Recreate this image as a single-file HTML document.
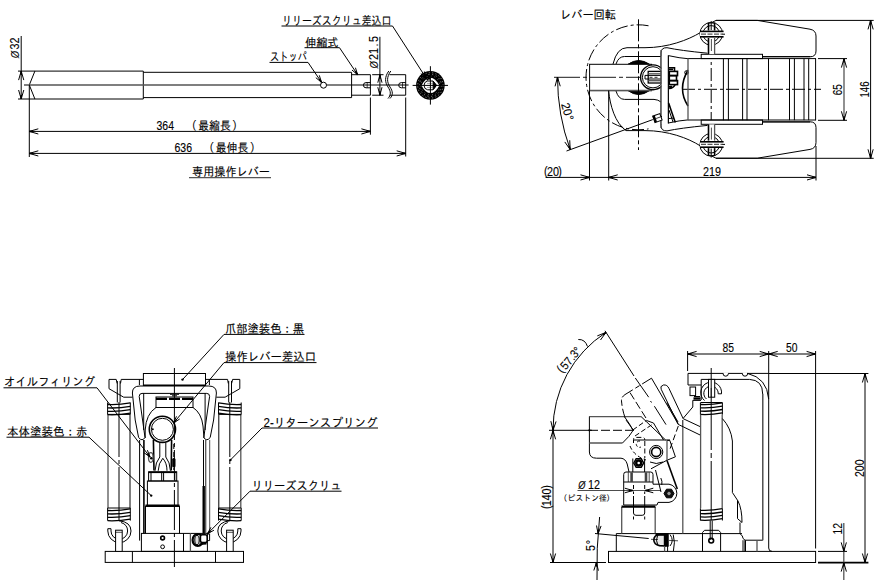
<!DOCTYPE html>
<html lang="ja">
<head>
<meta charset="utf-8">
<title>専用操作レバー 外形図</title>
<style>
html,body{margin:0;padding:0;background:#fff;}
body{width:883px;height:585px;overflow:hidden;font-family:"Liberation Sans","IPAGothic","Noto Sans CJK JP",sans-serif;}
svg{display:block;position:absolute;left:0;top:0;}
.k{stroke:#000;stroke-width:1;fill:none;}
.kf{stroke:#000;stroke-width:1;fill:#fff;}
.k2{stroke:#000;stroke-width:1.6;fill:none;}
.kc{stroke:#000;stroke-width:1.3;fill:none;}
.k3{stroke:#000;stroke-width:2.4;fill:none;}
.g{stroke:#555;stroke-width:1.3;fill:none;}
.t{stroke:#000;stroke-width:.7;fill:none;}
.a{stroke:#000;stroke-width:1;fill:none;}
.c{stroke:#000;stroke-width:.9;fill:none;stroke-dasharray:26 3 4 3;}
.d{stroke:#000;stroke-width:1;fill:none;stroke-dasharray:6 3;}
.b{stroke:#000;stroke-width:1;fill:#000;}
.tx{fill:#000;stroke:#000;stroke-width:.12;font-family:"Liberation Sans","IPAGothic","Noto Sans CJK JP",sans-serif;}
</style>
</head>
<body>
<svg width="883" height="585" viewBox="0 0 883 585">
<rect x="0" y="0" width="883" height="585" fill="#fff"/>
<!-- view 1: lever -->
<g id="lever">
<line class="a" x1="21.2" y1="36" x2="21.2" y2="99"/>
<line class="a" x1="18" y1="71.1" x2="35" y2="71.1"/>
<line class="a" x1="18" y1="99" x2="35" y2="99"/>
<path class="a" d="M23.8 80.1 L21.2 71.1 L18.6 80.1"/>
<line class="k2" x1="21.2" y1="71.1" x2="21.2" y2="75.1"/>
<path class="a" d="M18.6 90 L21.2 99 L23.8 90"/>
<line class="k2" x1="21.2" y1="99" x2="21.2" y2="95"/>
<text class="tx" font-size="12" transform="translate(19.1 58.2) rotate(-90) scale(0.9 1)"><tspan x="0" y="0" font-size="10" font-style="italic" textLength="8" lengthAdjust="spacingAndGlyphs">Ø</tspan><tspan x="9.66 16.33" y="0">32</tspan></text>
<path class="k" d="M34.9 71.1 L143.3 71.1 L143.3 99 L34.9 99"/>
<path class="k" d="M34.9 71.1 L29.3 85 L34.9 99"/>
<line class="g" x1="24" y1="85" x2="408.6" y2="85"/>
<path class="k" d="M143.3 72.3 L351.6 72.3 L351.6 97.6 L143.3 97.6"/>
<path class="k" d="M351.6 74.7 L370.4 74.7 L370.4 95.2 L351.6 95.2"/>
<circle class="kf" cx="323.5" cy="85.2" r="3"/>
<path class="k" d="M370.4 82.6 L366 82.6 A2.6 2.6 0 0 0 366 87.8 L370.4 87.8"/>
<line class="t" x1="367.2" y1="82.6" x2="367.2" y2="87.8"/>
<path class="k" d="M405.7 82.6 L401.3 82.6 A2.6 2.6 0 0 0 401.3 87.8 L405.7 87.8"/>
<line class="t" x1="402.5" y1="82.6" x2="402.5" y2="87.8"/>
<path class="k" d="M389.5 74.7 L405.7 74.7 L405.7 95.2 L389.5 95.2"/>
<path class="k" d="M388.8 71 C384.5 77 384.8 82 388 87 C391 91.5 391.2 95 388 98.5"/>
<path class="k" d="M390.8 71 C386.5 77 386.8 82 390 87 C393 91.5 393.2 95 390 98.5"/>
<line class="a" x1="379.9" y1="36.8" x2="379.9" y2="95.2"/>
<line class="a" x1="372.2" y1="74.7" x2="383.5" y2="74.7"/>
<line class="a" x1="372.2" y1="95.2" x2="383.5" y2="95.2"/>
<path class="a" d="M382 82.7 L379.9 74.7 L377.8 82.7"/>
<line class="k2" x1="379.9" y1="74.7" x2="379.9" y2="78.7"/>
<path class="a" d="M377.8 87.2 L379.9 95.2 L382 87.2"/>
<line class="k2" x1="379.9" y1="95.2" x2="379.9" y2="91.2"/>
<text class="tx" font-size="12" transform="translate(378.1 68.6) rotate(-90) scale(0.9 1)"><tspan x="0" y="0" font-size="10" font-style="italic" textLength="8" lengthAdjust="spacingAndGlyphs">Ø</tspan><tspan x="9.55 16.22 24.55 29.55" y="0">21.5</tspan></text>
<circle cx="430.4" cy="85.4" r="14.3" fill="#000"/>
<circle class="t" cx="430.4" cy="85.4" r="12.7" style="stroke:#fff;stroke-width:.5;stroke-dasharray:1.2 2.2"/>
<circle class="t" cx="430.4" cy="85.4" r="11" style="stroke:#fff;stroke-width:.5;stroke-dasharray:1.2 2.6"/>
<circle class="t" cx="430.4" cy="85.4" r="9.4" style="stroke:#fff;stroke-width:.4;stroke-dasharray:1 3"/>
<path class="k" d="M421.5 85.4 Q425.5 77.7 430.4 77.7 Q435.3 77.7 439.4 85.4 Q435.3 93.1 430.4 93.1 Q425.5 93.1 421.5 85.4 Z" style="fill:#fff;stroke:none"/>
<path class="k" d="M427.6 81 L433 81 L436.4 85.4 L433 89.8 L427.6 89.8 A4.5 4.5 0 0 1 427.6 81 Z"/>
<path class="b" d="M433.2 81.3 L436.5 85.4 L433.2 89.5 Z"/>
<line class="t" x1="427" y1="83.4" x2="433" y2="83.4" style="stroke:#777"/>
<line class="t" x1="427" y1="87.4" x2="433" y2="87.4" style="stroke:#777"/>
<path class="k2" d="M426.8 80.3 Q428.3 77.8 430.2 79"/>
<line class="k" x1="412.6" y1="85.4" x2="448" y2="85.4"/>
<line class="k" x1="430.4" y1="66.2" x2="430.4" y2="104.6"/>
<line class="k" x1="29.3" y1="85" x2="29.3" y2="157"/>
<line class="k" x1="370.4" y1="97.5" x2="370.4" y2="134.7"/>
<line class="k" x1="405.7" y1="97.5" x2="405.7" y2="156.5"/>
<line class="k" x1="29.3" y1="131.4" x2="370.4" y2="131.4"/>
<path class="a" d="M38.3 128.8 L29.3 131.4 L38.3 134"/>
<line class="k2" x1="29.3" y1="131.4" x2="33.3" y2="131.4"/>
<path class="a" d="M361.4 134 L370.4 131.4 L361.4 128.8"/>
<line class="k2" x1="370.4" y1="131.4" x2="366.4" y2="131.4"/>
<line class="k" x1="29.3" y1="153.4" x2="405.7" y2="153.4"/>
<path class="a" d="M38.3 150.8 L29.3 153.4 L38.3 156"/>
<line class="k2" x1="29.3" y1="153.4" x2="33.3" y2="153.4"/>
<path class="a" d="M396.7 156 L405.7 153.4 L396.7 150.8"/>
<line class="k2" x1="405.7" y1="153.4" x2="401.7" y2="153.4"/>
<text class="tx" x="156.5" y="130" font-size="12" textLength="17.5" lengthAdjust="spacingAndGlyphs">364</text>
<text class="tx" font-size="12" transform="translate(198.5 130) scale(0.9 1)" x="-13.96 -0.33 11.78 23.89 37.23" y="0">（最縮長）</text>
<text class="tx" x="174.5" y="152" font-size="12" textLength="17.5" lengthAdjust="spacingAndGlyphs">636</text>
<text class="tx" font-size="12" transform="translate(216 152) scale(0.9 1)" x="-13.96 -0.33 11.78 23.89 37.45" y="0">（最伸長）</text>
<text class="tx" x="192" y="175.8" font-size="12" textLength="78" lengthAdjust="spacingAndGlyphs">専用操作レバー</text>
<line class="g" x1="189" y1="177.7" x2="271" y2="177.7"/>
<text class="tx" x="282" y="24.8" font-size="12" textLength="109.5" lengthAdjust="spacingAndGlyphs">リリーズスクリュ差込口</text>
<path class="a" d="M281.5 26 L392.5 26 L426.4 78.5"/>
<path class="a" d="M420.83 73.76 L426.4 78.5 L424.36 71.48"/>
<line class="k2" x1="426.4" y1="78.5" x2="424.23" y2="75.14"/>
<text class="tx" x="305" y="46.8" font-size="12" textLength="33.5" lengthAdjust="spacingAndGlyphs">伸縮式</text>
<path class="a" d="M304.5 47.7 L339.5 47.7 L357.6 74.7"/>
<path class="a" d="M351.96 70.05 L357.6 74.7 L355.45 67.71"/>
<line class="k2" x1="357.6" y1="74.7" x2="355.37" y2="71.38"/>
<text class="tx" x="270" y="61.4" font-size="12" textLength="37" lengthAdjust="spacingAndGlyphs">ストッパ</text>
<path class="a" d="M269.5 62.4 L308 62.4 L321.5 82.3"/>
<path class="a" d="M315.83 77.69 L321.5 82.3 L319.3 75.33"/>
<line class="k2" x1="321.5" y1="82.3" x2="319.25" y2="78.99"/>
</g>
<!-- view 2: top view -->
<g id="top">
<text class="tx" x="560" y="18.5" font-size="12" textLength="56" lengthAdjust="spacingAndGlyphs">レバー回転</text>
<path class="k" d="M648.52 25.76 A52.5 52.5 0 1 0 648.52 128.84" stroke-dasharray="12 3 3 3"/>
<line class="k" x1="682" y1="89.3" x2="821" y2="89.3" stroke-dasharray="13 3 3 3"/>
<line class="k" x1="711.2" y1="24" x2="711.2" y2="155" stroke-dasharray="13 3 3 3"/>
<path class="k" d="M711.8 22.5 L716 20.4 L757.3 20.4 L810 29.2 Q816 30.3 816 36 L816 51 Q816 56.8 810 56.8 L762.5 56.8"/>
<path class="k" d="M613 64 Q617 47.7 627 47.7 L645 47.7 C668 47.7 688 40 700.5 32.5"/>
<path class="k" d="M616 64 Q618.5 56.5 624.5 56.5 L661 56.5"/>
<path class="k" d="M661 89.3 L661 53 Q661 47.5 667 47.7 Q680 50.5 707.5 53.2"/>
<path class="k" d="M668.3 89.3 L668.3 55.6 Q680 58.2 688 58.7"/>
<rect class="kf" x="701.2" y="54.3" width="61.3" height="4.3"/>
<line class="k" x1="688" y1="58.6" x2="816" y2="58.6"/>
<line class="k" x1="762.5" y1="56.6" x2="810" y2="56.6"/>
<circle class="kf" cx="711.2" cy="33.8" r="11.3"/>
<circle class="k" cx="711.2" cy="33.8" r="8.2"/>
<rect class="kf" x="708.5" y="37.3" width="6.1" height="16.9" style="stroke:none"/>
<line class="k2" x1="708.5" y1="38" x2="708.5" y2="54.2"/>
<line class="g" x1="714.6" y1="38" x2="714.6" y2="54.2"/>
<line class="t" x1="711.4" y1="39" x2="711.4" y2="51"/>
<line class="k2" x1="708.5" y1="22.7" x2="708.5" y2="30.5"/>
<line class="k2" x1="714.6" y1="22.7" x2="714.6" y2="30.5"/>
<line class="k" x1="708.5" y1="22.9" x2="714.6" y2="22.9"/>
<line class="k" x1="711.2" y1="21" x2="711.2" y2="30"/>
<rect class="kf" x="700" y="31.4" width="23.6" height="5.4" style="stroke:none"/>
<line class="k2" x1="700" y1="31.4" x2="723.6" y2="31.4"/>
<line class="k2" x1="700" y1="36.8" x2="723.6" y2="36.8"/>
<line class="g" x1="701" y1="34.2" x2="723" y2="34.2" stroke-dasharray="5 1.5"/>
<line class="k" x1="722.5" y1="34.2" x2="725" y2="34.2"/>
<path class="b" d="M628 64.3 Q638.5 56.8 649.5 64.3 Z"/>
<path class="k" d="M711.8 156.1 L716 158.2 L757.3 158.2 L810 149.4 Q816 148.3 816 142.6 L816 127.6 Q816 121.8 810 121.8 L762.5 121.8"/>
<path class="k" d="M608.6 91 C610 105 615 123 626 130.6 L645 130.6 C668 130.6 688 138 700.5 146"/>
<path class="k" d="M616 91 Q618.5 99.4 624.5 99.4 L654 99.4 Q658 99.6 661 102"/>
<path class="k" d="M661 89.3 L661 125.6 Q661 131.1 667 130.9 Q680 128.1 707.5 125.4"/>
<path class="k" d="M668.3 89.3 L668.3 123 Q680 120.4 688 119.9"/>
<rect class="kf" x="701.2" y="120" width="61.3" height="4.3"/>
<line class="k" x1="688" y1="120" x2="816" y2="120"/>
<line class="k" x1="762.5" y1="122" x2="810" y2="122"/>
<circle class="kf" cx="711.2" cy="144.8" r="11.3"/>
<circle class="k" cx="711.2" cy="144.8" r="8.2"/>
<rect class="kf" x="708.5" y="124.4" width="6.1" height="16.9" style="stroke:none"/>
<line class="k2" x1="708.5" y1="140.6" x2="708.5" y2="124.4"/>
<line class="g" x1="714.6" y1="140.6" x2="714.6" y2="124.4"/>
<line class="t" x1="711.4" y1="139.6" x2="711.4" y2="127.6"/>
<line class="k2" x1="708.5" y1="155.9" x2="708.5" y2="148.1"/>
<line class="k2" x1="714.6" y1="155.9" x2="714.6" y2="148.1"/>
<line class="k" x1="708.5" y1="155.7" x2="714.6" y2="155.7"/>
<line class="k" x1="711.2" y1="157.6" x2="711.2" y2="148.6"/>
<rect class="kf" x="700" y="141.8" width="23.6" height="5.4" style="stroke:none"/>
<line class="k2" x1="700" y1="147.2" x2="723.6" y2="147.2"/>
<line class="k2" x1="700" y1="141.8" x2="723.6" y2="141.8"/>
<line class="g" x1="701" y1="144.4" x2="723" y2="144.4" stroke-dasharray="5 1.5"/>
<line class="k" x1="722.5" y1="144.4" x2="725" y2="144.4"/>
<path class="b" d="M628 90.6 Q638.5 98.4 649.5 90.6 Z"/>
<rect class="kf" x="589.6" y="64.3" width="62" height="26.3"/>
<line class="g" x1="589.6" y1="90.5" x2="652" y2="90.5"/>
<line class="c" x1="554" y1="77.3" x2="640" y2="77.3"/>
<line class="k" x1="638.5" y1="19.3" x2="638.5" y2="150" stroke-dasharray="22 3 4 3"/>
<circle class="kf" cx="653" cy="77.3" r="12.4" style="stroke-width:1.4"/>
<circle class="k" cx="653" cy="77.3" r="10.6"/>
<rect class="kf" x="648.2" y="71.4" width="13" height="11.6" style="stroke-width:1.3"/>
<line class="g" x1="648.2" y1="73.8" x2="661" y2="73.8"/>
<line class="g" x1="648.2" y1="80.7" x2="661" y2="80.7"/>
<line class="k" x1="645" y1="75.4" x2="661" y2="75.4"/>
<line class="k" x1="645" y1="79" x2="661" y2="79"/>
<line class="k" x1="645" y1="75.4" x2="645" y2="79"/>
<line class="g" x1="649.5" y1="77.3" x2="659" y2="77.3" stroke-dasharray="3 2"/>
<rect class="kf" x="661.5" y="56" width="6.3" height="68" style="stroke:none"/>
<line class="g" x1="661" y1="50" x2="661" y2="128"/>
<line class="k" x1="668.3" y1="55.6" x2="668.3" y2="123.6"/>
<rect class="k2" x="669.3" y="71.4" width="8.2" height="4.2"/>
<rect class="k2" x="669.3" y="75.6" width="7.2" height="5"/>
<rect class="k2" x="669.3" y="80.6" width="8.2" height="4"/>
<path class="k2" d="M669 67.8 L674.5 67.8 L674.5 71 M669 69.5 L673 69.5 M669 88.5 Q673.5 88 675 84.8 M669 86.8 L672 86.5"/>
<path class="k2" d="M688 70 Q677 89 688 106"/>
<circle class="k" cx="686.5" cy="72.5" r="1.8"/>
<line class="k" x1="723.4" y1="58.6" x2="723.4" y2="120.2"/>
<line class="k" x1="728.4" y1="58.6" x2="728.4" y2="120.2"/>
<line class="k" x1="742.6" y1="58.6" x2="742.6" y2="120.2"/>
<line class="k" x1="747" y1="58.6" x2="747" y2="120.2"/>
<line class="k" x1="768.5" y1="58.6" x2="768.5" y2="120.2"/>
<line class="k" x1="789.5" y1="58.6" x2="789.5" y2="120.2"/>
<line class="k" x1="794.4" y1="58.6" x2="794.4" y2="120.2"/>
<line class="k" x1="804" y1="58.6" x2="804" y2="120.2"/>
<line class="k" x1="808.7" y1="58.6" x2="808.7" y2="120.2"/>
<line class="k" x1="815.6" y1="58.6" x2="815.6" y2="120.2"/>
<line class="g" x1="688" y1="58.6" x2="688" y2="120.2"/>
<line class="k" x1="566.5" y1="151" x2="650" y2="120.6"/>
<line class="k" x1="650" y1="120.6" x2="662" y2="116.3" stroke-dasharray="3 2"/>
<g transform="rotate(-20 657.5 118)"><rect class="kf" x="653.6" y="114.6" width="7.6" height="6.8"/><line class="k3" x1="654.6" y1="114.6" x2="654.6" y2="121.4"/><line class="t" x1="656" y1="118" x2="661" y2="118"/></g>
<path class="k2" d="M668.6 103 L675.3 122.6"/>
<path class="k" d="M669 110 L673 122 M669 118.5 L674 118"/>
<line class="k" x1="589.5" y1="90.5" x2="589.5" y2="180.5"/>
<line class="k" x1="608.7" y1="90.5" x2="608.7" y2="180.5"/>
<line class="k" x1="816" y1="146" x2="816" y2="180.5"/>
<line class="k" x1="545.6" y1="177.4" x2="816" y2="177.4"/>
<path class="a" d="M580.5 180 L589.5 177.4 L580.5 174.8"/>
<line class="k2" x1="589.5" y1="177.4" x2="585.5" y2="177.4"/>
<path class="a" d="M617.7 174.8 L608.7 177.4 L617.7 180"/>
<line class="k2" x1="608.7" y1="177.4" x2="612.7" y2="177.4"/>
<path class="a" d="M807 180 L816 177.4 L807 174.8"/>
<line class="k2" x1="816" y1="177.4" x2="812" y2="177.4"/>
<text class="tx" x="703" y="175.6" font-size="12" textLength="18" lengthAdjust="spacingAndGlyphs">219</text>
<text class="tx" font-size="12" transform="translate(544 175.6) scale(0.9 1)" x="0 3.22 9.89 15.89" y="0" dy="-1 1 0 -1">(20)</text>
<path class="a" d="M557.5 77.3 A211.3 211.3 0 0 0 570.2 149.6"/>
<path class="a" d="M560.26 86.25 L557.5 77.3 L555.06 86.34"/>
<line class="k2" x1="557.5" y1="77.3" x2="557.57" y2="81.3"/>
<path class="a" d="M564.81 141.94 L570.2 149.6 L569.73 140.24"/>
<line class="k2" x1="570.2" y1="149.6" x2="568.9" y2="145.82"/>
<text class="tx" font-size="12" transform="translate(561 104.3) rotate(74) scale(0.95 1)" x="-0.07 6.45 13.92" y="0">20°</text>
<line class="k" x1="818" y1="58.6" x2="847" y2="58.6"/>
<line class="k" x1="818" y1="120.3" x2="847" y2="120.3"/>
<line class="g" x1="844" y1="58.6" x2="844" y2="120.3"/>
<path class="a" d="M846.6 67.6 L844 58.6 L841.4 67.6"/>
<line class="k2" x1="844" y1="58.6" x2="844" y2="62.6"/>
<path class="a" d="M841.4 111.3 L844 120.3 L846.6 111.3"/>
<line class="k2" x1="844" y1="120.3" x2="844" y2="116.3"/>
<text class="tx" x="842" y="95.2" font-size="12" textLength="11" lengthAdjust="spacingAndGlyphs" transform="rotate(-90 842 95.2)">65</text>
<line class="k" x1="716" y1="20.4" x2="873.7" y2="20.4"/>
<line class="k" x1="716" y1="158.3" x2="873.7" y2="158.3"/>
<line class="k" x1="870.6" y1="20.4" x2="870.6" y2="158.3"/>
<path class="a" d="M873.2 29.4 L870.6 20.4 L868 29.4"/>
<line class="k2" x1="870.6" y1="20.4" x2="870.6" y2="24.4"/>
<path class="a" d="M868 149.3 L870.6 158.3 L873.2 149.3"/>
<line class="k2" x1="870.6" y1="158.3" x2="870.6" y2="154.3"/>
<text class="tx" x="869" y="97.5" font-size="12" textLength="16" lengthAdjust="spacingAndGlyphs" transform="rotate(-90 869 97.5)">146</text>
</g>
<!-- view 3: front view -->
<g id="front">
<line class="k" x1="174.4" y1="368" x2="174.4" y2="567" stroke-dasharray="72 3 4 3 30 3 4 3 40 3 4 3 200"/>
<rect class="k" x="105.2" y="551.4" width="138.3" height="11"/>
<line class="k" x1="132.4" y1="551.4" x2="132.4" y2="562.4"/>
<line class="k" x1="215.5" y1="551.4" x2="215.5" y2="562.4"/>
<rect class="k" x="141.4" y="533.4" width="66" height="18"/>
<line class="k" x1="183.5" y1="533.4" x2="183.5" y2="551.4"/>
<line class="g" x1="190.4" y1="533.4" x2="190.4" y2="551.4"/>
<circle class="k2" cx="162.6" cy="538" r="1.9"/>
<circle class="k" cx="162.6" cy="546.8" r="1.9"/>
<rect class="k" x="147.4" y="481" width="30.6" height="24.6"/>
<line class="k3" x1="145.5" y1="505.8" x2="179.5" y2="505.8"/>
<line class="k" x1="145.5" y1="505.8" x2="145.5" y2="533.4"/>
<line class="k" x1="179.5" y1="505.8" x2="179.5" y2="533.4"/>
<rect class="k" x="148.6" y="471.8" width="28.1" height="9.2"/>
<line class="k" x1="151" y1="471.8" x2="151" y2="481"/>
<line class="k" x1="161.7" y1="471.8" x2="161.7" y2="481"/>
<line class="k" x1="163.6" y1="471.8" x2="163.6" y2="481"/>
<line class="k" x1="174.8" y1="471.8" x2="174.8" y2="481"/>
<line class="k2" x1="148.6" y1="472.3" x2="176.7" y2="472.3"/>
<rect class="k" x="143.4" y="373.5" width="62.1" height="12"/>
<line class="k2" x1="143.4" y1="385.2" x2="205.5" y2="385.2"/>
<path class="k" d="M143.4 379.4 L121.2 379.4 L120.5 383.5"/>
<path class="k" d="M117.2 383.5 L116.2 379.4 L109 379.4 L109 388.7 L123.7 397.2 L132.5 397.2"/>
<line class="k" x1="139.4" y1="379.4" x2="139.4" y2="385"/>
<line class="k" x1="117.3" y1="381" x2="117.3" y2="402.5"/>
<line class="k" x1="120.1" y1="381" x2="120.1" y2="402.5"/>
<path class="k" d="M174.4 386 L140 386 Q132.3 386 132.4 393 L135.2 420 L138.6 437.5 Q142.2 442 145 437.5 L140.6 406 L139.2 396.5 Q139.2 393.4 142 393.4 L174.4 393.4"/>
<line class="k" x1="143.7" y1="393.4" x2="143.7" y2="430"/>
<line class="k" x1="139.6" y1="440" x2="139.6" y2="540.6"/>
<line class="k2" x1="143.9" y1="440" x2="143.9" y2="533.4"/>
<line class="g" x1="108" y1="414.4" x2="108" y2="508"/>
<line class="k" x1="130" y1="414.4" x2="130" y2="508"/>
<line class="k" x1="119" y1="402" x2="119" y2="521" stroke-dasharray="55 3 4 3 200"/>
<path class="kc" d="M107.6 404.5 Q119 405 130.3 402.9"/>
<path class="kc" d="M107.6 407.9 Q119 408.4 130.3 406.3"/>
<path class="kc" d="M107.6 411.3 Q119 411.8 130.3 409.7"/>
<path class="kc" d="M107.6 414.7 Q119 415.2 130.3 413.1"/>
<line class="k" x1="107.6" y1="402.5" x2="107.6" y2="414.4"/>
<line class="k" x1="130.3" y1="402.5" x2="130.3" y2="414.4"/>
<line class="k" x1="107.6" y1="414.4" x2="130.3" y2="414.4"/>
<path class="kc" d="M107.6 510.5 Q119 511 130.3 508.9"/>
<path class="kc" d="M107.6 513.9 Q119 514.4 130.3 512.3"/>
<path class="kc" d="M107.6 517.3 Q119 517.8 130.3 515.7"/>
<path class="kc" d="M107.6 520.7 Q119 521.2 130.3 519.1"/>
<line class="k" x1="107.6" y1="508" x2="107.6" y2="520.6"/>
<line class="k" x1="130.3" y1="508" x2="130.3" y2="520.6"/>
<line class="k" x1="107.6" y1="508" x2="130.3" y2="508"/>
<path class="k" d="M119 520.8 Q131 522 131 531 A11.3 11.3 0 0 1 107.8 531 L107.8 528.7 L111 528.7 L111 531 A8.3 8.3 0 0 0 127.6 531 Q127.6 524.5 121 522.5"/>
<rect class="kf" x="115.6" y="530.2" width="6.6" height="21.2"/>
<line class="t" x1="115.6" y1="532.3" x2="122.2" y2="532.3"/>
<path class="k" d="M205.4 379.4 L227.6 379.4 L228.3 383.5"/>
<path class="k" d="M231.6 383.5 L232.6 379.4 L239.8 379.4 L239.8 388.7 L225.1 397.2 L216.3 397.2"/>
<line class="k" x1="209.4" y1="379.4" x2="209.4" y2="385"/>
<line class="k" x1="231.5" y1="381" x2="231.5" y2="402.5"/>
<line class="k" x1="228.7" y1="381" x2="228.7" y2="402.5"/>
<path class="k" d="M174.4 386 L208.8 386 Q216.5 386 216.4 393 L213.6 420 L210.2 437.5 Q206.6 442 203.8 437.5 L208.2 406 L209.6 396.5 Q209.6 393.4 206.8 393.4 L174.4 393.4"/>
<line class="k" x1="205.1" y1="393.4" x2="205.1" y2="430"/>
<line class="k" x1="203.5" y1="440" x2="203.5" y2="486"/>
<line class="k3" x1="203.7" y1="486" x2="203.7" y2="533.4"/>
<line class="g" x1="205.7" y1="440" x2="205.7" y2="533.4"/>
<line class="t" x1="209.7" y1="440" x2="209.7" y2="533.4"/>
<line class="g" x1="240.8" y1="414.4" x2="240.8" y2="508"/>
<line class="k" x1="218.8" y1="414.4" x2="218.8" y2="508"/>
<line class="k" x1="229.8" y1="402" x2="229.8" y2="521" stroke-dasharray="55 3 4 3 200"/>
<path class="kc" d="M241.2 404.5 Q229.8 405 218.5 402.9"/>
<path class="kc" d="M241.2 407.9 Q229.8 408.4 218.5 406.3"/>
<path class="kc" d="M241.2 411.3 Q229.8 411.8 218.5 409.7"/>
<path class="kc" d="M241.2 414.7 Q229.8 415.2 218.5 413.1"/>
<line class="k" x1="241.2" y1="402.5" x2="241.2" y2="414.4"/>
<line class="k" x1="218.5" y1="402.5" x2="218.5" y2="414.4"/>
<line class="k" x1="241.2" y1="414.4" x2="218.5" y2="414.4"/>
<path class="kc" d="M241.2 510.5 Q229.8 511 218.5 508.9"/>
<path class="kc" d="M241.2 513.9 Q229.8 514.4 218.5 512.3"/>
<path class="kc" d="M241.2 517.3 Q229.8 517.8 218.5 515.7"/>
<path class="kc" d="M241.2 520.7 Q229.8 521.2 218.5 519.1"/>
<line class="k" x1="241.2" y1="508" x2="241.2" y2="520.6"/>
<line class="k" x1="218.5" y1="508" x2="218.5" y2="520.6"/>
<line class="k" x1="241.2" y1="508" x2="218.5" y2="508"/>
<path class="k" d="M229.8 520.8 Q217.8 522 217.8 531 A11.3 11.3 0 0 0 241 531 L241 528.7 L237.8 528.7 L237.8 531 A8.3 8.3 0 0 1 221.2 531 Q221.2 524.5 227.8 522.5"/>
<rect class="kf" x="226.6" y="530.2" width="6.6" height="21.2"/>
<line class="t" x1="233.2" y1="532.3" x2="226.6" y2="532.3"/>
<rect class="k" x="156" y="397" width="37" height="10.5"/>
<line class="k3" x1="156" y1="398.9" x2="193" y2="398.9" stroke-dasharray="11 2"/>
<path class="k" d="M170 394.3 L179 394.3 M172 395.8 L177 395.8"/>
<path class="k" d="M156 407.5 Q146 414 145.2 430 L145.2 438"/>
<path class="k" d="M193 407.5 Q201.5 413 203 426 L204 438"/>
<circle class="k2" cx="162.4" cy="429.3" r="13.1"/>
<circle class="k" cx="162.4" cy="429.3" r="11"/>
<circle cx="152.8" cy="429.3" r="1" fill="#000"/>
<path class="k2" d="M153.4 440 L154 470.5 M171.6 440 L171.2 470.5"/>
<path class="k" d="M159.8 442.5 L159.8 457 Q155.5 462 155 470.8 M165.8 442.5 L165.8 457 Q170 462 170.4 470.8"/>
<path class="k" d="M162.8 458.3 Q158.5 463 158.2 470.8 M162.8 458.3 Q167 463 167 470.8"/>
<ellipse class="g" cx="150.8" cy="457.5" rx="2.3" ry="4.8"/>
<circle cx="151.3" cy="458.3" r="1.3" fill="#000"/>
<rect x="172.2" y="458" width="3.3" height="9.5" rx="1.5" fill="#000"/>
<line class="k" x1="173.8" y1="444" x2="173.8" y2="470" stroke-dasharray="5 3"/>
<ellipse cx="197.8" cy="540" rx="5.2" ry="6" fill="#ddd" stroke="#000" stroke-width="2.2"/>
<ellipse cx="197" cy="540" rx="2.2" ry="4.6" fill="none" stroke="#000" stroke-width="1"/>
<rect x="200.4" y="534.8" width="6.8" height="7.8" rx="2" fill="#fff" stroke="#000" stroke-width="1.6"/>
<path class="k2" d="M199.5 544.3 L206.5 543.6"/>
<path class="k" d="M207.6 534 L209.6 534 L209.6 540.6 L207.6 540.6"/>
<text class="tx" x="4" y="385.8" font-size="12" textLength="91" lengthAdjust="spacingAndGlyphs">オイルフィリング</text>
<path class="a" d="M3.5 387.8 L97 387.8 L150 457"/>
<path class="a" d="M144.07 452.72 L150 457 L147.4 450.17"/>
<line class="k2" x1="150" y1="457" x2="147.56" y2="453.83"/>
<text class="tx" x="7" y="435.5" font-size="12" textLength="80.5" lengthAdjust="spacingAndGlyphs">本体塗装色：赤</text>
<path class="a" d="M6.5 437.2 L89 437.2 L151.2 495.6"/>
<circle cx="151.2" cy="495.6" r="1.2" fill="#000"/>
<text class="tx" x="225" y="333" font-size="12" textLength="79" lengthAdjust="spacingAndGlyphs">爪部塗装色：黒</text>
<path class="a" d="M304.5 334.4 L224 334.4 L182.5 379.6"/>
<circle cx="182.5" cy="379.6" r="1.2" fill="#000"/>
<text class="tx" x="225" y="361.3" font-size="12" textLength="91" lengthAdjust="spacingAndGlyphs">操作レバー差込口</text>
<path class="a" d="M316.5 362.6 L224 362.6 L173.6 423"/>
<path class="a" d="M176.47 416.28 L173.6 423 L179.69 418.97"/>
<line class="k2" x1="173.6" y1="423" x2="176.16" y2="419.93"/>
<text class="tx" x="263.5" y="426.7" font-size="12" textLength="114" lengthAdjust="spacingAndGlyphs">2-リターンスプリング</text>
<path class="a" d="M378 428 L262 428 L230.4 460"/>
<circle cx="230.4" cy="460" r="1.2" fill="#000"/>
<text class="tx" x="251.5" y="489.8" font-size="12" textLength="90" lengthAdjust="spacingAndGlyphs">リリーズスクリュ</text>
<path class="a" d="M341.5 491.2 L250 491.2 L207.5 533.7"/>
<path class="a" d="M210.96 527.27 L207.5 533.7 L213.93 530.24"/>
<line class="k2" x1="207.5" y1="533.7" x2="210.33" y2="530.87"/>
</g>
<!-- view 4: side view -->
<g id="side">
<rect class="k" x="608.5" y="551.4" width="207.1" height="11.1"/>
<path class="k" d="M616.3 551.4 L616.3 533.6 L742 533.6"/>
<line class="g" x1="621.7" y1="507" x2="621.7" y2="533.6"/>
<line class="g" x1="655.2" y1="507" x2="655.2" y2="533.6"/>
<line class="k3" x1="621.5" y1="506.6" x2="655.4" y2="506.6"/>
<path class="k" d="M623.7 505 L623.7 474.5 Q623.7 472 626 472 L650.7 472 Q653 472 653 474.5 L653 484.2 L669 484.2 A9.2 9.2 0 0 1 669 502.4 L658 502.4 L657 505 Z"/>
<line class="k" x1="623.7" y1="482" x2="653" y2="482"/>
<line class="k" x1="631.6" y1="472.3" x2="631.6" y2="482" style="stroke:#444;stroke-width:2.6"/>
<line class="k" x1="646" y1="472.3" x2="646" y2="482" style="stroke:#444;stroke-width:2.6"/>
<line class="t" x1="628.3" y1="472.3" x2="628.3" y2="482"/>
<line class="t" x1="649.2" y1="472.3" x2="649.2" y2="482"/>
<line class="k" x1="633.5" y1="485" x2="633.5" y2="494" stroke-dasharray="4 2.5"/>
<line class="k" x1="644.7" y1="485" x2="644.7" y2="494" stroke-dasharray="4 2.5"/>
<path class="k" d="M633.5 496 L633.5 513 Q633.5 515.3 636 515.3 L642.2 515.3 Q644.7 515.3 644.7 513 L644.7 496"/>
<line class="k" x1="633.5" y1="516.5" x2="633.5" y2="519.5"/>
<line class="k" x1="644.7" y1="516.5" x2="644.7" y2="519.5"/>
<polygon points="664,493.5 666.5,489.2 671.5,489.2 674,493.5 671.5,497.8 666.5,497.8" fill="#111" stroke="#000" stroke-width="1"/>
<circle class="k" cx="669" cy="493.5" r="1.3" style="stroke:#999;fill:#999"/>
<path class="k" d="M655.5 470 L661 492"/>
<path class="k2" d="M667 460.5 L677.3 489"/>
<path class="k" d="M660.8 478 Q662.5 481 661.8 485"/>
<path class="k" d="M641 416.5 L589.4 416.5 L589.4 452 Q589.6 458.2 596.5 458.2 L621 458.2 Q625.5 458.6 627.2 464 L629 472"/>
<line class="g" x1="589.4" y1="416.6" x2="641" y2="416.6"/>
<line class="g" x1="589.4" y1="443" x2="622.5" y2="443"/>
<path class="k" d="M641 416.5 L666 440.4"/>
<path class="k" d="M622.5 443 Q630 436 633 430.5 Q630 424 624.5 416.8"/>
<line class="g" x1="633.7" y1="440" x2="670" y2="440"/>
<line class="k" x1="580" y1="430.3" x2="592" y2="430.3"/>
<line class="k" x1="589" y1="430.3" x2="634" y2="430.3" stroke-dasharray="9 3"/>
<circle cx="589.4" cy="430.3" r="1.1" fill="#000"/>
<circle class="k" cx="656.2" cy="452" r="6.6"/>
<circle class="k2" cx="656.2" cy="452" r="4.6"/>
<polygon points="633.8,463 636.2,458.7 641.2,458.7 643.7,463 641.2,467.3 636.2,467.3" fill="#fff" stroke="#000" stroke-width="1.5"/>
<circle class="k3" cx="638.7" cy="463" r="2.5"/>
<line class="k" x1="632.8" y1="458.5" x2="632.8" y2="472"/>
<line class="k" x1="644.6" y1="458.5" x2="644.6" y2="472"/>
<line class="k" x1="644.8" y1="441" x2="644.8" y2="458" stroke-dasharray="5 2.5"/>
<path class="k" d="M633.5 443 L633.5 439.5 Q633.5 437.4 636 437.4 L642.5 437.4 Q644.8 437.4 644.8 440" stroke-dasharray="5 2.5"/>
<path class="k" d="M640 441 A3.2 3.2 0 1 0 641 447" stroke-dasharray="3 2"/>
<path class="k" d="M630 446 Q634 456 646 460" stroke-dasharray="4 2.5"/>
<path class="k" d="M667 440.4 L669.8 440.4 L675.4 456.8 L666.8 460.3 L651 468.8"/>
<line class="g" x1="667" y1="440.4" x2="667" y2="460"/>
<path class="k" d="M650 462 Q656 465 663 462"/>
<path class="k" d="M651.5 378.2 L625 394.6 Q620.8 397.3 621.6 402 Q622.6 412 626 420 L633 429.5" stroke-dasharray="11 3 5 3 13 2.5 6 3 9 3 30"/>
<path class="k" d="M651.5 378.2 L678.3 424.2"/>
<path class="k" d="M630 392.6 L646.4 418.7" stroke-dasharray="8 3"/>
<path class="k" d="M678.3 426 L670 449" stroke-dasharray="6 3"/>
<path class="k" d="M632.8 430 L646.4 420.4 M635 436 L653.2 423.8" stroke-dasharray="5 2.5"/>
<path class="k" d="M646.5 420.5 L653.5 423 L663.5 440"/>
<line class="k" x1="605" y1="330.8" x2="634" y2="376"/>
<line class="k" x1="635.3" y1="378" x2="648.7" y2="397.2"/>
<line class="k" x1="650.5" y1="401" x2="651.5" y2="402.5"/>
<line class="k" x1="654.4" y1="406.2" x2="666" y2="424.6"/>
<path class="k" d="M661.2 389.3 Q659.6 386.2 663.4 385 Q667.3 384.4 669.1 388.7 L683.2 418.7 L700.5 426.8 M661.2 389.3 L678.2 424.4 L700.5 435.2"/>
<path class="k" d="M666.8 402.8 L678.1 422.1"/>
<line class="g" x1="682.8" y1="427" x2="682.8" y2="533.6"/>
<line class="k" x1="682.8" y1="420" x2="682.8" y2="427"/>
<path class="k" d="M692.8 400.4 L692.8 407 L683.2 418.3"/>
<rect class="k" x="690" y="387" width="5.6" height="8.6"/>
<line class="k3" x1="693.5" y1="398.5" x2="700.5" y2="398.5"/>
<line class="k" x1="694" y1="396.5" x2="700" y2="396.5"/>
<line class="k" x1="692.8" y1="400.4" x2="701" y2="400.4"/>
<path class="k" d="M768.7 373.4 L688 373.4 L688 385 L701.2 385 L701.2 379.4 L749.5 379.4 Q762.7 380 762.7 394 L762.7 540.2 L745 540.2 Q742.6 539 742.3 536 L740 533.6 L740 522.5"/>
<path class="k" d="M747.5 373.4 Q767 378 768.7 399"/>
<line class="k" x1="723.4" y1="373.5" x2="728.2" y2="373.5" style="stroke:#fff;stroke-width:2"/>
<line class="k" x1="742.6" y1="373.5" x2="747" y2="373.5" style="stroke:#fff;stroke-width:2"/>
<path class="k" d="M723 373.5 A2.7 2.7 0 0 0 728.4 373.5 M742.3 373.5 A2.7 2.7 0 0 0 747.7 373.5"/>
<line class="g" x1="762.7" y1="394" x2="762.7" y2="540.2"/>
<line class="k" x1="701.2" y1="385" x2="701.2" y2="400"/>
<path class="k" d="M721.5 393.8 A10.4 10.4 0 1 0 704.5 400.5 M718.2 393.8 A7.2 7.2 0 1 0 706.5 399"/>
<line class="k" x1="718.2" y1="393.8" x2="721.5" y2="393.8"/>
<rect class="kf" x="708.5" y="379.4" width="6.2" height="17.8"/>
<line class="t" x1="711.2" y1="388" x2="711.2" y2="397"/>
<path class="kc" d="M700.4 404.5 Q711 405.1 722.4 402.9"/>
<path class="kc" d="M700.4 407.8 Q711 408.4 722.4 406.2"/>
<path class="kc" d="M700.4 411.1 Q711 411.7 722.4 409.5"/>
<path class="kc" d="M700.4 414.4 Q711 415 722.4 412.8"/>
<line class="k" x1="700.4" y1="402.5" x2="700.4" y2="414.7"/>
<line class="k" x1="722.4" y1="402.5" x2="722.4" y2="414.7"/>
<path class="kc" d="M700.4 510.3 Q711 510.9 722.4 508.7"/>
<path class="kc" d="M700.4 513.6 Q711 514.2 722.4 512"/>
<path class="kc" d="M700.4 516.9 Q711 517.5 722.4 515.3"/>
<path class="kc" d="M700.4 520.2 Q711 520.8 722.4 518.6"/>
<line class="k" x1="700.4" y1="508.3" x2="700.4" y2="520.5"/>
<line class="k" x1="722.4" y1="508.3" x2="722.4" y2="520.5"/>
<line class="k" x1="700.6" y1="402.5" x2="722.2" y2="402.5"/>
<line class="g" x1="700.6" y1="414.6" x2="700.6" y2="508.3"/>
<line class="g" x1="722.2" y1="414.6" x2="722.2" y2="508.3"/>
<line class="k" x1="711.2" y1="368" x2="711.2" y2="520" stroke-dasharray="82 3 5 3 200"/>
<line class="k" x1="710.2" y1="520.6" x2="710.2" y2="540"/>
<line class="k" x1="712.2" y1="520.6" x2="712.2" y2="540"/>
<circle class="k2" cx="711.2" cy="540.6" r="2.4"/>
<path class="k" d="M702.5 551.4 L702.5 532.5 L704.5 530.3 L718.6 530.3 L720.6 532.5 L720.6 551.4"/>
<path class="k" d="M722.4 418.6 Q731 428 732.4 441 L732.4 492.5 L738 501 Q742 509 742 522.5 L737.5 518.6 L737.5 500.5"/>
<line class="k" x1="743" y1="540.2" x2="743" y2="551.4"/>
<line class="k2" x1="745.2" y1="540.2" x2="745.2" y2="551.4"/>
<line class="g" x1="757" y1="540.2" x2="757" y2="551.4"/>
<path class="k" d="M768.7 351 L768.7 548 Q768.7 551.4 772 551.4"/>
<path class="k2" d="M659 534.8 L665 534.8 L665 546 L659.5 545.6 Q654 544.5 653.8 540 Q654 535.2 659 534.8 Z" style="fill:#e8e8e8"/>
<path class="k" d="M657.5 536 Q655.3 540 657.8 545"/>
<rect class="b" x="664.3" y="533.6" width="3.9" height="12.6"/>
<line class="k3" x1="655.5" y1="534.4" x2="668" y2="534.4"/>
<line class="g" x1="664.6" y1="546" x2="664.6" y2="551.4"/>
<line class="k" x1="667.6" y1="546" x2="667.6" y2="551.4"/>
<path class="k" d="M670 534.5 Q674.5 540.4 670 546 M673.2 534.5 Q675.5 542 673.4 551"/>
<line class="t" x1="651" y1="539.3" x2="658" y2="539.6"/>
<line class="t" x1="669" y1="540.4" x2="678" y2="540.8"/>
<line class="k" x1="595" y1="533.5" x2="648.7" y2="538.5"/>
<path class="a" d="M599.6 517 Q596.2 548 597 580"/>
<path class="a" d="M596.51 525.53 L598.1 533.7 L601.09 525.93"/>
<line class="k2" x1="598.1" y1="533.7" x2="598.45" y2="529.72"/>
<path class="a" d="M598.42 570.68 L596.4 562.6 L593.82 570.51"/>
<line class="k2" x1="596.4" y1="562.6" x2="596.26" y2="566.6"/>
<text class="tx" font-size="12" transform="translate(595 551) rotate(-90) scale(0.9 1)" x="-0 7.6" y="0">5°</text>
<line class="k" x1="550" y1="562.5" x2="606" y2="562.5"/>
<line class="k" x1="553" y1="430.3" x2="553" y2="562.5"/>
<path class="a" d="M555.6 439.3 L553 430.3 L550.4 439.3"/>
<line class="k2" x1="553" y1="430.3" x2="553" y2="434.3"/>
<path class="a" d="M550.4 553.5 L553 562.5 L555.6 553.5"/>
<line class="k2" x1="553" y1="562.5" x2="553" y2="558.5"/>
<text class="tx" font-size="12" transform="translate(550.6 508) rotate(-90) scale(0.9 1)" x="-1.22 1.89 8.44 15.11 21.44" y="0" dy="-1 1 0 0 -1">(140)</text>
<line class="k" x1="549" y1="430.3" x2="580" y2="430.3"/>
<path class="a" d="M553 430.3 A115.8 115.8 0 0 1 606 332.4"/>
<path class="a" d="M550.87 421.18 L553 430.3 L556.07 421.45"/>
<line class="k2" x1="553" y1="430.3" x2="553.21" y2="426.31"/>
<path class="a" d="M600.51 339.99 L606 332.4 L597.31 335.89"/>
<line class="k2" x1="606" y1="332.4" x2="602.85" y2="334.86"/>
<text class="tx" font-size="12" transform="translate(564 372.8) rotate(-50.5) scale(0.9 1)" x="-2 3.22 9.89 17.11 20.22 26.44" y="0" dy="-1 1 0 0 0 0">(57.3°</text>
<path class="a" d="M578.3 339.5 Q585 339 587.5 346.5"/>
<line class="t" x1="577.5" y1="490.5" x2="661" y2="490.5"/>
<path class="a" d="M624.8 492.8 L632.8 490.5 L624.8 488.2"/>
<line class="k2" x1="632.8" y1="490.5" x2="628.8" y2="490.5"/>
<path class="a" d="M653.3 488.2 L645.3 490.5 L653.3 492.8"/>
<line class="k2" x1="645.3" y1="490.5" x2="649.3" y2="490.5"/>
<text class="tx" font-size="12" transform="translate(578.3 489) scale(0.9 1)"><tspan x="0" y="0" font-size="10" font-style="italic" textLength="8" lengthAdjust="spacingAndGlyphs">Ø</tspan><tspan x="10.78 17.44" y="0">12</tspan></text>
<text class="tx" font-size="8.2" transform="translate(567.9 501.3) scale(0.95 1)" x="-8.86 -0.32 7.95 16.21 24.47 32.74 40.49" y="0">（ピストン径）</text>
<line class="k" x1="687.6" y1="351" x2="687.6" y2="371"/>
<line class="k" x1="815.6" y1="351" x2="815.6" y2="548.5"/>
<line class="g" x1="687.6" y1="354" x2="815.6" y2="354"/>
<path class="a" d="M696.6 351.4 L687.6 354 L696.6 356.6"/>
<line class="k2" x1="687.6" y1="354" x2="691.6" y2="354"/>
<path class="a" d="M759.7 356.6 L768.7 354 L759.7 351.4"/>
<line class="k2" x1="768.7" y1="354" x2="764.7" y2="354"/>
<path class="a" d="M777.7 351.4 L768.7 354 L777.7 356.6"/>
<line class="k2" x1="768.7" y1="354" x2="772.7" y2="354"/>
<path class="a" d="M806.6 356.6 L815.6 354 L806.6 351.4"/>
<line class="k2" x1="815.6" y1="354" x2="811.6" y2="354"/>
<text class="tx" x="722.5" y="352" font-size="12" textLength="11.5" lengthAdjust="spacingAndGlyphs">85</text>
<text class="tx" x="786" y="352" font-size="12" textLength="11.5" lengthAdjust="spacingAndGlyphs">50</text>
<line class="k" x1="768.7" y1="373.5" x2="868.4" y2="373.5"/>
<line class="k" x1="865" y1="373.5" x2="865" y2="562.5"/>
<path class="a" d="M867.6 382.5 L865 373.5 L862.4 382.5"/>
<line class="k2" x1="865" y1="373.5" x2="865" y2="377.5"/>
<path class="a" d="M862.4 553.5 L865 562.5 L867.6 553.5"/>
<line class="k2" x1="865" y1="562.5" x2="865" y2="558.5"/>
<text class="tx" x="863.5" y="477" font-size="12" textLength="17.5" lengthAdjust="spacingAndGlyphs" transform="rotate(-90 863.5 477)">200</text>
<line class="k" x1="818" y1="551.4" x2="847" y2="551.4"/>
<line class="k2" x1="818" y1="562.6" x2="868.4" y2="562.6"/>
<line class="g" x1="843.8" y1="523" x2="843.8" y2="580"/>
<path class="a" d="M841.2 542.4 L843.8 551.4 L846.4 542.4"/>
<line class="k2" x1="843.8" y1="551.4" x2="843.8" y2="547.4"/>
<path class="a" d="M846.4 571.6 L843.8 562.6 L841.2 571.6"/>
<line class="k2" x1="843.8" y1="562.6" x2="843.8" y2="566.6"/>
<text class="tx" x="842" y="534.5" font-size="12" textLength="11.5" lengthAdjust="spacingAndGlyphs" transform="rotate(-90 842 534.5)">12</text>
</g>
</svg>
</body>
</html>
